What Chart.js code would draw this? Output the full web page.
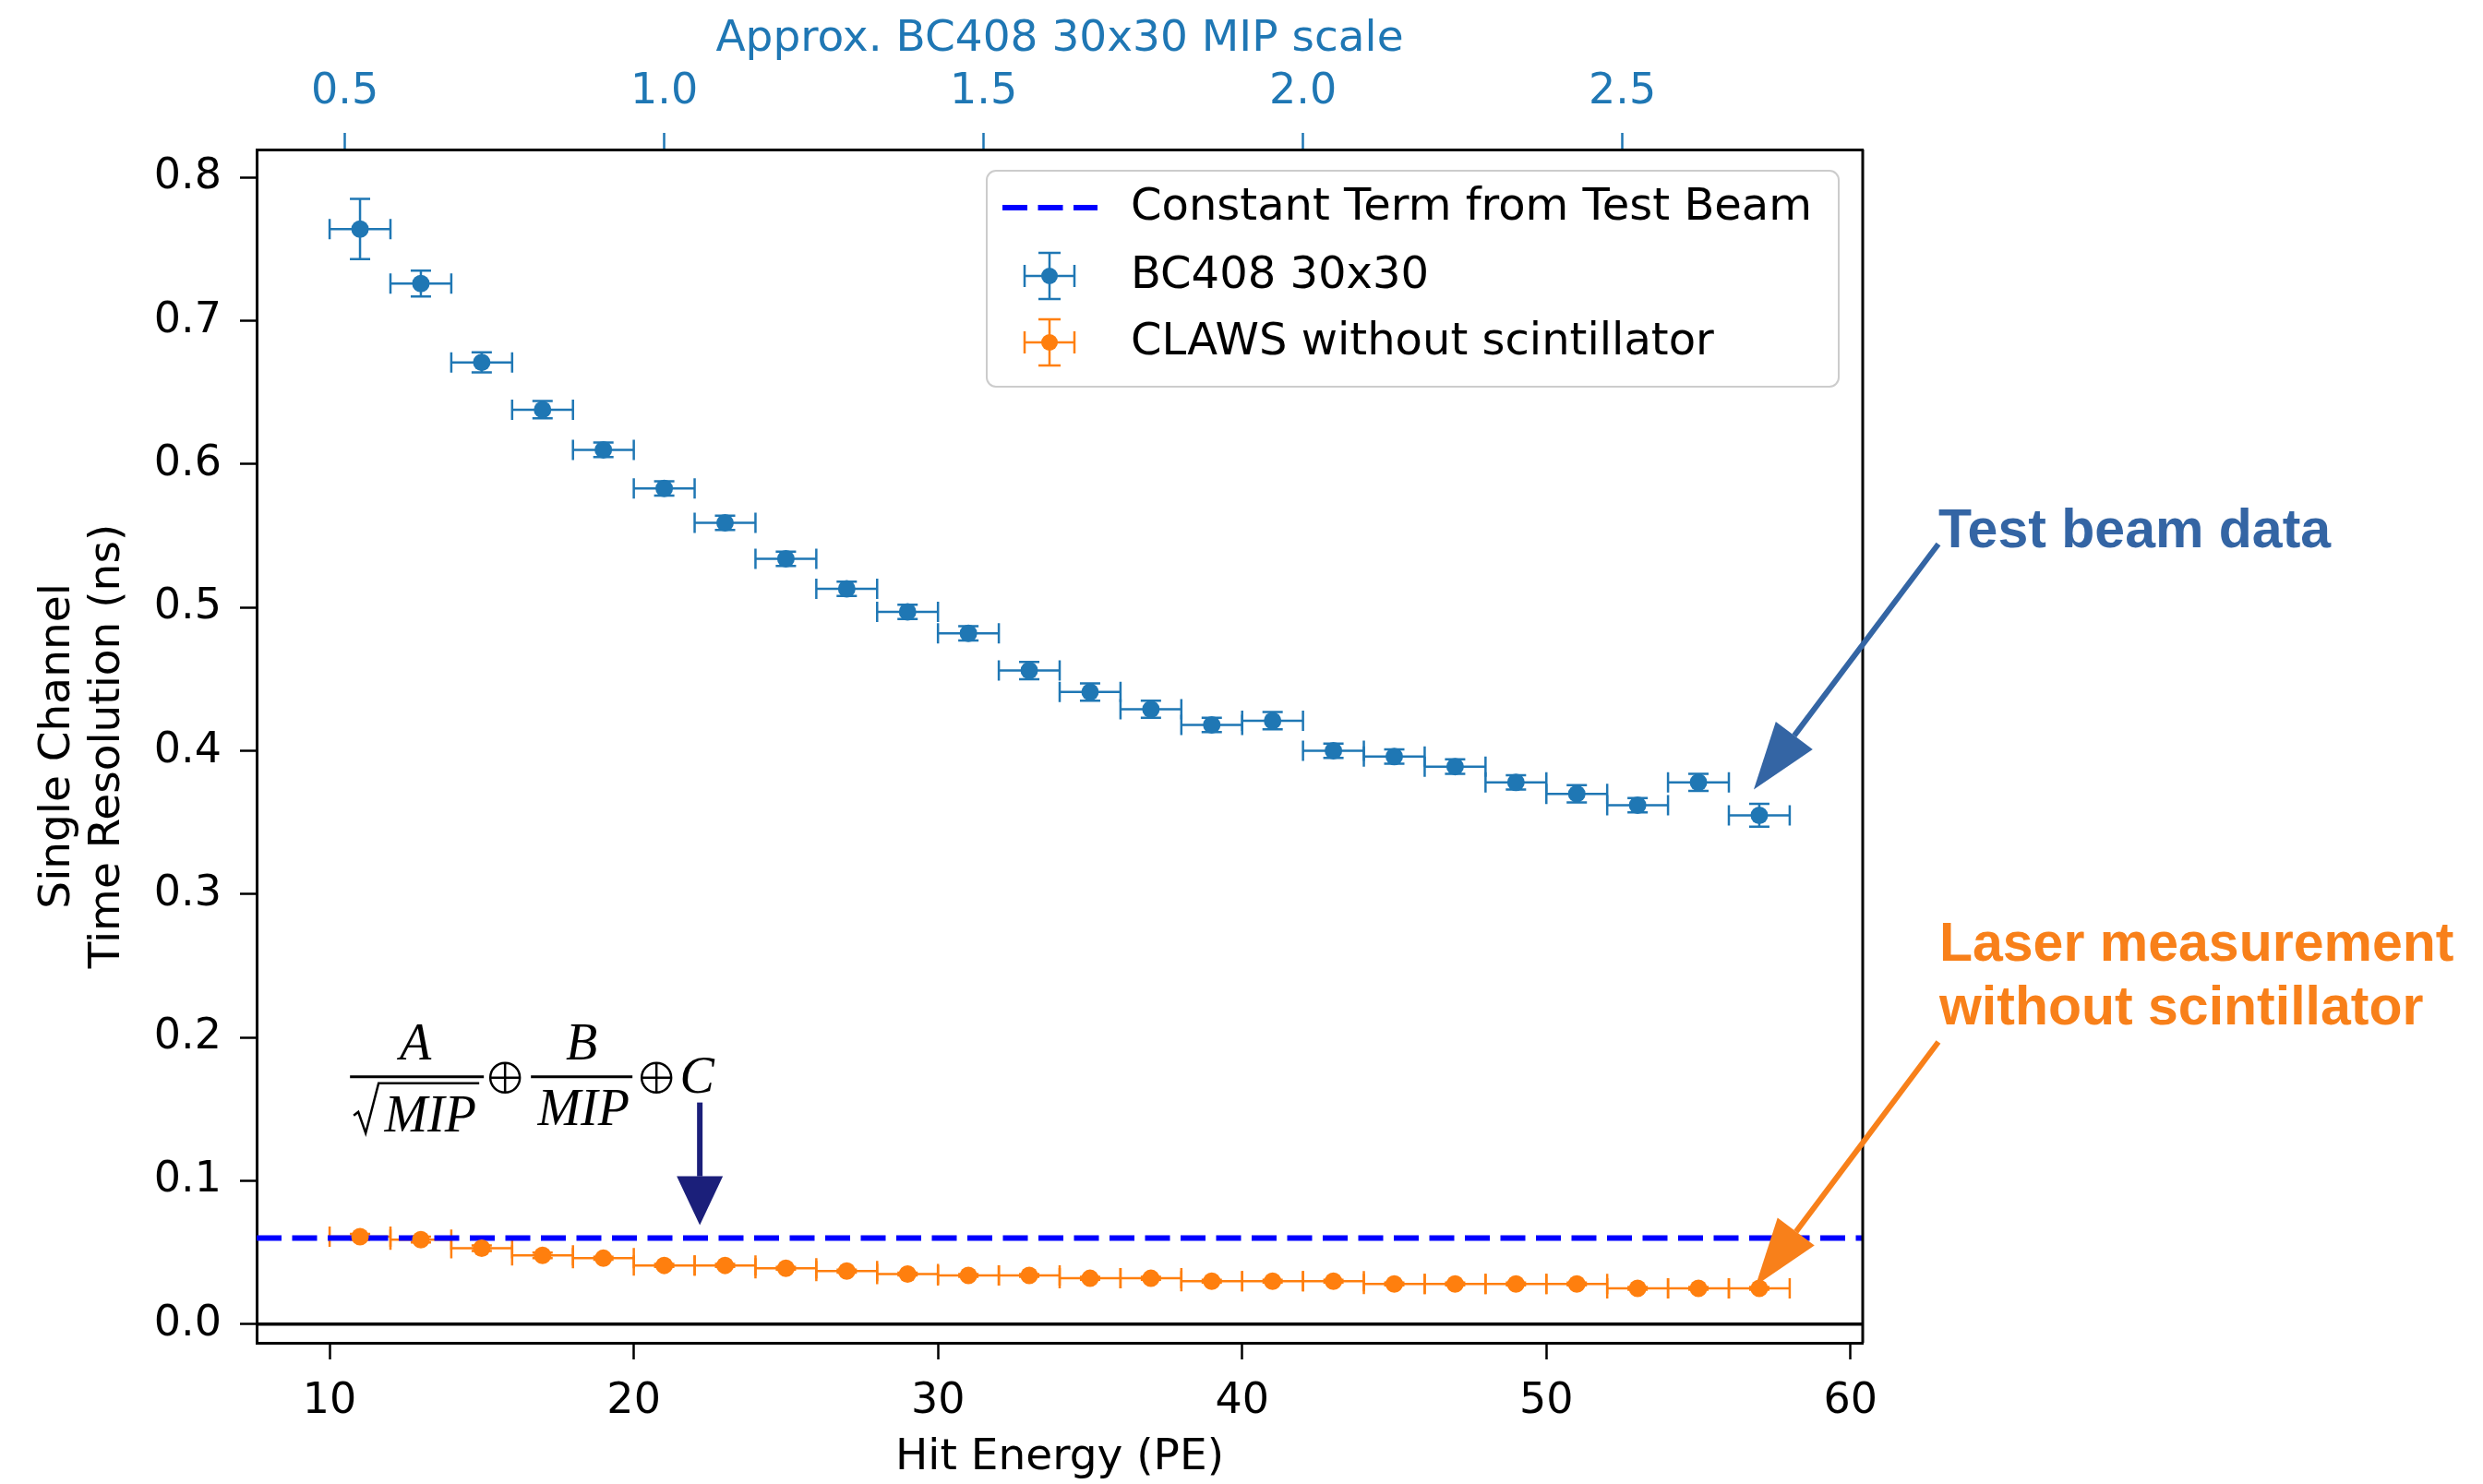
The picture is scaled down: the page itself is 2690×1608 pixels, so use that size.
<!DOCTYPE html>
<html>
<head>
<meta charset="utf-8">
<script src="https://cdn.jsdelivr.net/npm/chart.js@4.4.0/dist/chart.umd.min.js"></script>
<style>
html, body { margin: 0; padding: 0; background: #fff; }
#wrap { width: 2690px; height: 1608px; }
</style>
</head>
<body>
<div id="wrap"><canvas id="myChart"></canvas></div>
<script>
// hit energy bin centres (PE), bins are 2 PE wide
var hitEnergy = [11, 13, 15, 17, 19, 21, 23, 25, 27, 29, 31, 33, 35, 37, 39, 41, 43, 45, 47, 49, 51, 53, 55, 57];
var binHalfWidth = 1;

// BC408 30x30 test beam
var bc408Res = [0.764, 0.726, 0.671, 0.638, 0.610, 0.583, 0.559, 0.534, 0.513, 0.497, 0.482, 0.456, 0.441, 0.429, 0.418, 0.421, 0.400, 0.396, 0.389, 0.378, 0.370, 0.362, 0.378, 0.355];
var bc408Err = [0.021, 0.009, 0.007, 0.006, 0.005, 0.005, 0.005, 0.005, 0.005, 0.005, 0.005, 0.006, 0.006, 0.006, 0.005, 0.006, 0.005, 0.005, 0.005, 0.005, 0.006, 0.005, 0.006, 0.008];

// CLAWS without scintillator (laser)
var clawsRes = [0.061, 0.059, 0.053, 0.048, 0.046, 0.041, 0.041, 0.039, 0.037, 0.035, 0.034, 0.034, 0.032, 0.032, 0.030, 0.030, 0.030, 0.028, 0.028, 0.028, 0.028, 0.025, 0.025, 0.025];
var clawsErr = [0.002, 0.002, 0.002, 0.002, 0.001, 0.001, 0.001, 0.001, 0.001, 0.001, 0.001, 0.001, 0.001, 0.001, 0.001, 0.001, 0.001, 0.001, 0.001, 0.001, 0.001, 0.001, 0.001, 0.001];

var constantTerm = 0.060;
var pePerMip = 21;

var xMin = 7.6, xMax = 60.4;
var yMin = -0.013, yMax = 0.8195;

var blue = '#1f77b4';
var orange = '#ff7f0e';

Chart.defaults.font.family = 'DejaVu Sans';
Chart.defaults.color = '#000';

function points(xs, ys) {
    var out = [];
    for (var i = 0; i < xs.length; i++) out.push({x: xs[i], y: ys[i]});
    return out;
}

function drawErrorBars(chart, xs, ys, errs, color) {
    var ctx = chart.ctx, sx = chart.scales.x, sy = chart.scales.y;
    var cap = 11;
    ctx.save();
    ctx.strokeStyle = color;
    ctx.lineWidth = 2.5;
    for (var i = 0; i < xs.length; i++) {
        var px = sx.getPixelForValue(xs[i]), py = sy.getPixelForValue(ys[i]);
        var x0 = sx.getPixelForValue(xs[i] - binHalfWidth), x1 = sx.getPixelForValue(xs[i] + binHalfWidth);
        var y0 = sy.getPixelForValue(ys[i] - errs[i]), y1 = sy.getPixelForValue(ys[i] + errs[i]);
        ctx.beginPath();
        ctx.moveTo(x0, py); ctx.lineTo(x1, py);
        ctx.moveTo(x0, py - cap); ctx.lineTo(x0, py + cap);
        ctx.moveTo(x1, py - cap); ctx.lineTo(x1, py + cap);
        ctx.moveTo(px, y0); ctx.lineTo(px, y1);
        ctx.moveTo(px - cap, y0); ctx.lineTo(px + cap, y0);
        ctx.moveTo(px - cap, y1); ctx.lineTo(px + cap, y1);
        ctx.stroke();
    }
    ctx.restore();
}

function arrow(ctx, tx, ty, hx, hy, color, headLen, headW, lw) {
    var a = Math.atan2(hy - ty, hx - tx);
    var bx = hx - Math.cos(a) * headLen, by = hy - Math.sin(a) * headLen;
    ctx.save();
    ctx.strokeStyle = color;
    ctx.fillStyle = color;
    ctx.lineWidth = lw;
    ctx.beginPath(); ctx.moveTo(tx, ty); ctx.lineTo(bx, by); ctx.stroke();
    ctx.beginPath();
    ctx.moveTo(hx, hy);
    ctx.lineTo(bx + Math.sin(a) * headW / 2, by - Math.cos(a) * headW / 2);
    ctx.lineTo(bx - Math.sin(a) * headW / 2, by + Math.cos(a) * headW / 2);
    ctx.closePath();
    ctx.fill();
    ctx.restore();
}

function legendIcon(ctx, cx, cy, color) {
    ctx.save();
    ctx.strokeStyle = color; ctx.fillStyle = color; ctx.lineWidth = 2.5;
    ctx.beginPath();
    ctx.moveTo(cx - 27, cy); ctx.lineTo(cx + 27, cy);
    ctx.moveTo(cx - 27, cy - 12); ctx.lineTo(cx - 27, cy + 12);
    ctx.moveTo(cx + 27, cy - 12); ctx.lineTo(cx + 27, cy + 12);
    ctx.moveTo(cx, cy - 25); ctx.lineTo(cx, cy + 25);
    ctx.moveTo(cx - 12, cy - 25); ctx.lineTo(cx + 12, cy - 25);
    ctx.moveTo(cx - 12, cy + 25); ctx.lineTo(cx + 12, cy + 25);
    ctx.stroke();
    ctx.beginPath(); ctx.arc(cx, cy, 9, 0, Math.PI * 2); ctx.fill();
    ctx.restore();
}

function oplus(ctx, cx, cy) {
    ctx.beginPath();
    ctx.arc(cx, cy, 16, 0, Math.PI * 2);
    ctx.moveTo(cx - 16, cy); ctx.lineTo(cx + 16, cy);
    ctx.moveTo(cx, cy - 16); ctx.lineTo(cx, cy + 16);
    ctx.stroke();
}

var extras = {
    id: 'extras',
    beforeDatasetsDraw: function(chart) {
        var ctx = chart.ctx, a = chart.chartArea, sy = chart.scales.y;
        // zero line
        ctx.save();
        ctx.strokeStyle = '#000';
        ctx.lineWidth = 3.5;
        ctx.beginPath();
        ctx.moveTo(a.left, sy.getPixelForValue(0));
        ctx.lineTo(a.right, sy.getPixelForValue(0));
        ctx.stroke();
        ctx.restore();
        drawErrorBars(chart, hitEnergy, clawsRes, clawsErr, orange);
        drawErrorBars(chart, hitEnergy, bc408Res, bc408Err, blue);
    },
    afterDraw: function(chart) {
        var ctx = chart.ctx, a = chart.chartArea, sx = chart.scales.x, sy = chart.scales.y;
        var R = a.right, T = a.top;

        // right spine
        ctx.save();
        ctx.strokeStyle = '#000';
        ctx.lineWidth = 3;
        ctx.beginPath(); ctx.moveTo(R, a.top); ctx.lineTo(R, a.bottom); ctx.stroke();
        ctx.restore();

        // legend
        ctx.save();
        ctx.fillStyle = 'rgba(255,255,255,0.85)';
        ctx.strokeStyle = '#cccccc';
        ctx.lineWidth = 2;
        ctx.beginPath();
        ctx.roundRect(R - 949, T + 23, 923, 234, 10);
        ctx.fill(); ctx.stroke();
        ctx.strokeStyle = '#0000ff';
        ctx.lineWidth = 6;
        ctx.setLineDash([27, 11.5]);
        ctx.beginPath(); ctx.moveTo(R - 932, T + 63); ctx.lineTo(R - 829, T + 63); ctx.stroke();
        ctx.setLineDash([]);
        legendIcon(ctx, R - 881, T + 137, blue);
        legendIcon(ctx, R - 881, T + 209, orange);
        ctx.fillStyle = '#000';
        ctx.font = '48px "DejaVu Sans"';
        ctx.textBaseline = 'middle';
        ctx.textAlign = 'left';
        ctx.fillText('Constant Term from Test Beam', R - 793, T + 64);
        ctx.fillText('BC408 30x30', R - 793, T + 138);
        ctx.fillText('CLAWS without scintillator', R - 793, T + 210);
        ctx.restore();

        // annotation: test beam data
        var last = hitEnergy.length - 1;
        var bx = sx.getPixelForValue(hitEnergy[last]) - 6, by = sy.getPixelForValue(bc408Res[last]) - 28;
        var btx = bx + 200, bty = by - 266;
        arrow(ctx, btx, bty, bx, by, '#3465a4', 73, 50, 6);
        ctx.save();
        ctx.font = 'bold 59px "Liberation Sans"';
        ctx.textAlign = 'left';
        ctx.textBaseline = 'alphabetic';
        ctx.fillStyle = '#3465a4';
        ctx.fillText('Test beam data', btx, bty + 4);
        ctx.restore();

        // annotation: laser measurement
        var ox = sx.getPixelForValue(hitEnergy[last]) - 4, oy = sy.getPixelForValue(clawsRes[last]) - 3;
        var otx = ox + 198, oty = oy - 264;
        arrow(ctx, otx, oty, ox, oy, '#f8801a', 73, 50, 6);
        ctx.save();
        ctx.font = 'bold 59px "Liberation Sans"';
        ctx.textAlign = 'left';
        ctx.fillStyle = '#f8801a';
        ctx.fillText('Laser measurement', otx + 1, oty - 88);
        ctx.fillText('without scintillator', otx + 1, oty - 19);
        ctx.restore();

        // formula and arrow pointing at the constant term
        var nx = sx.getPixelForValue(22.17), ny = sy.getPixelForValue(constantTerm) - 14;
        arrow(ctx, nx, ny - 133, nx, ny, '#1b1f7a', 53, 50, 6);

        var fx = sx.getPixelForValue(10.67), fy = sy.getPixelForValue(0.1726);
        ctx.save();
        ctx.fillStyle = '#000';
        ctx.strokeStyle = '#000';
        ctx.lineWidth = 3;
        ctx.font = 'italic 56px "Liberation Serif"';
        ctx.textAlign = 'center';
        ctx.textBaseline = 'alphabetic';
        ctx.fillText('A', fx + 71, fy - 19);
        ctx.beginPath(); ctx.moveTo(fx, fy); ctx.lineTo(fx + 145, fy); ctx.stroke();
        ctx.lineWidth = 2.5;
        ctx.beginPath();
        ctx.moveTo(fx + 4, fy + 42); ctx.lineTo(fx + 9, fy + 38); ctx.lineTo(fx + 17, fy + 61);
        ctx.lineTo(fx + 31, fy + 7); ctx.lineTo(fx + 140, fy + 7);
        ctx.stroke();
        ctx.fillText('MIP', fx + 87, fy + 59);
        oplus(ctx, fx + 168, fy + 1);
        ctx.lineWidth = 3;
        ctx.beginPath(); ctx.moveTo(fx + 196, fy); ctx.lineTo(fx + 306, fy); ctx.stroke();
        ctx.fillText('B', fx + 251, fy - 19);
        ctx.fillText('MIP', fx + 253, fy + 52);
        ctx.lineWidth = 2.5;
        oplus(ctx, fx + 332, fy + 1);
        ctx.fillText('C', fx + 376, fy + 17);
        ctx.restore();
    }
};

var ctx = document.getElementById('myChart');
var myChart = new Chart(ctx, {
    type: 'scatter',
    data: {
        datasets: [{
            label: 'BC408 30x30',
            data: points(hitEnergy, bc408Res),
            backgroundColor: blue,
            pointRadius: 9.5,
            pointBorderWidth: 0
        }, {
            label: 'CLAWS without scintillator',
            data: points(hitEnergy, clawsRes),
            backgroundColor: orange,
            pointRadius: 9.5,
            pointBorderWidth: 0
        }, {
            type: 'line',
            label: 'Constant Term from Test Beam',
            data: [{x: xMin, y: constantTerm}, {x: xMax, y: constantTerm}],
            borderColor: '#0000ff',
            borderWidth: 6,
            borderDash: [27, 11.5],
            pointRadius: 0,
            fill: false
        }]
    },
    options: {
        responsive: true,
        maintainAspectRatio: false,
        animation: false,
        layout: { padding: { left: 0, top: 0, bottom: 0, right: 672 } },
        plugins: {
            legend: { display: false },
            tooltip: { enabled: false }
        },
        scales: {
            x: {
                type: 'linear',
                position: 'bottom',
                min: xMin,
                max: xMax,
                afterFit: function(s) { s.height = 153; },
                ticks: {
                    stepSize: 10,
                    includeBounds: false,
                    padding: 18,
                    font: { size: 46 },
                    color: '#000',
                    maxRotation: 0
                },
                grid: { drawOnChartArea: false, drawTicks: true, tickLength: 18, tickWidth: 2.5, tickColor: '#000' },
                border: { display: true, color: '#000', width: 3 },
                title: {
                    display: true,
                    text: 'Hit Energy (PE)',
                    font: { size: 47, lineHeight: 1.15 },
                    color: '#000',
                    padding: { top: 0, bottom: 1 }
                }
            },
            x2: {
                type: 'linear',
                axis: 'x',
                position: 'top',
                min: xMin / pePerMip,
                max: xMax / pePerMip,
                afterFit: function(s) { s.height = 162; },
                ticks: {
                    stepSize: 0.5,
                    includeBounds: false,
                    padding: 16,
                    font: { size: 46 },
                    color: blue,
                    maxRotation: 0,
                    callback: function(v) { return v.toFixed(1); }
                },
                grid: { drawOnChartArea: false, drawTicks: true, tickLength: 18, tickWidth: 2.5, tickColor: blue },
                border: { display: true, color: '#000', width: 3 },
                title: {
                    display: true,
                    text: 'Approx. BC408 30x30 MIP scale',
                    font: { size: 47, lineHeight: 1.15 },
                    color: blue,
                    padding: { top: 16, bottom: 0 }
                }
            },
            y: {
                type: 'linear',
                min: yMin,
                max: yMax,
                afterFit: function(s) { s.width = 278; },
                ticks: {
                    stepSize: 0.1,
                    includeBounds: false,
                    padding: 20,
                    font: { size: 46 },
                    color: '#000',
                    callback: function(v) { return v.toFixed(1); }
                },
                grid: { drawOnChartArea: false, drawTicks: true, tickLength: 18, tickWidth: 2.5, tickColor: '#000' },
                border: { display: true, color: '#000', width: 3 },
                title: {
                    display: true,
                    text: ['Single Channel', 'Time Resolution (ns)'],
                    font: { size: 47, lineHeight: 1.15 },
                    color: '#000',
                    padding: { top: 36, bottom: 0 }
                }
            }
        }
    },
    plugins: [extras]
});
</script>
</body>
</html>
